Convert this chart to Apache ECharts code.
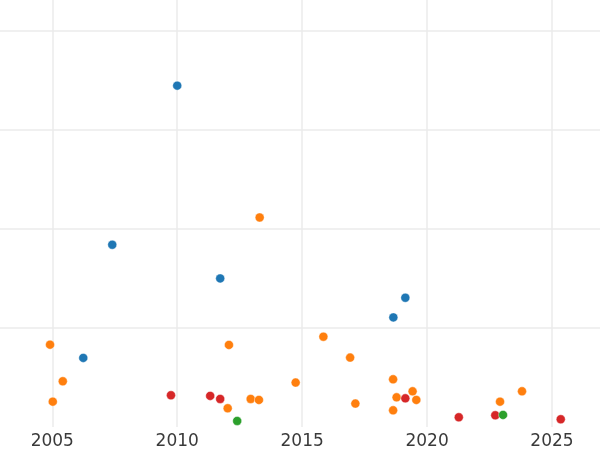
<!DOCTYPE html>
<html>
<head>
<meta charset="utf-8">
<script src="https://cdn.jsdelivr.net/npm/echarts@6/dist/echarts.min.js"></script>
<style>html,body{margin:0;padding:0;background:#fff}#c{width:600px;height:450px}</style>
</head>
<body>
<div id="c"></div>
<script>
const xTicks = [2005, 2010, 2015, 2020, 2025];
const blueX = [2010.00, 2007.40, 2011.72, 2019.13, 2018.65, 2006.24];
const blueY = [3.444, 1.839, 1.499, 1.304, 1.106, 0.697];
const orangeX = [2013.30, 2004.91, 2005.42, 2005.02, 2012.07, 2012.94, 2013.27, 2012.02, 2014.74, 2015.85, 2016.92, 2018.64, 2019.42, 2018.78, 2019.57, 2017.13, 2018.64, 2022.92, 2023.80];
const orangeY = [2.114, 0.831, 0.461, 0.256, 0.828, 0.283, 0.273, 0.189, 0.448, 0.911, 0.700, 0.481, 0.360, 0.299, 0.273, 0.236, 0.168, 0.256, 0.360];
const redX = [2009.75, 2011.32, 2011.72, 2019.13, 2021.27, 2022.73, 2025.35];
const redY = [0.320, 0.314, 0.283, 0.289, 0.098, 0.118, 0.078];
const greenX = [2012.40, 2023.04];
const greenY = [0.061, 0.122];

const pair = (xs, ys) => xs.map((x, i) => [x, ys[i]]);
const mk = (xs, ys, color) => ({
  type: 'scatter', data: pair(xs, ys), symbolSize: 9,
  itemStyle: { color: color, opacity: 1, borderColor: '#ffffff', borderWidth: 0.4 },
  emphasis: { disabled: true }, silent: true
});

const chart = echarts.init(document.getElementById('c'), null, { renderer: 'canvas' });
chart.setOption({
  animation: false,
  backgroundColor: '#ffffff',
  grid: { left: 0, right: 0, top: 0, bottom: 22.6, containLabel: false },
  xAxis: {
    type: 'value', min: 2002.907, max: 2026.921, splitNumber: 5,
    axisLine: { show: false }, axisTick: { show: false },
    axisLabel: {
      margin: 6, fontSize: 17, color: '#3a3a3a', fontFamily: 'DejaVu Sans',
      showMinLabel: false, showMaxLabel: false,
      formatter: v => (xTicks.indexOf(Math.round(v)) >= 0 && Math.abs(v - Math.round(v)) < 1e-6 ? String(Math.round(v)) : '')
    },
    splitLine: { show: true, showMinLine: false, showMaxLine: false, lineStyle: { color: '#ebebeb', width: 1.5 } }
  },
  yAxis: {
    type: 'value', min: 0, max: 4.308, splitNumber: 5,
    axisLine: { show: false }, axisTick: { show: false }, axisLabel: { show: false },
    splitLine: { show: true, showMinLine: false, showMaxLine: false, lineStyle: { color: '#ebebeb', width: 1.5 } }
  },
  series: [
    mk(blueX, blueY, '#1f77b4'),
    mk(orangeX, orangeY, '#ff7f0e'),
    mk(redX, redY, '#d62728'),
    mk(greenX, greenY, '#2ca02c')
  ]
});
</script>
</body>
</html>
